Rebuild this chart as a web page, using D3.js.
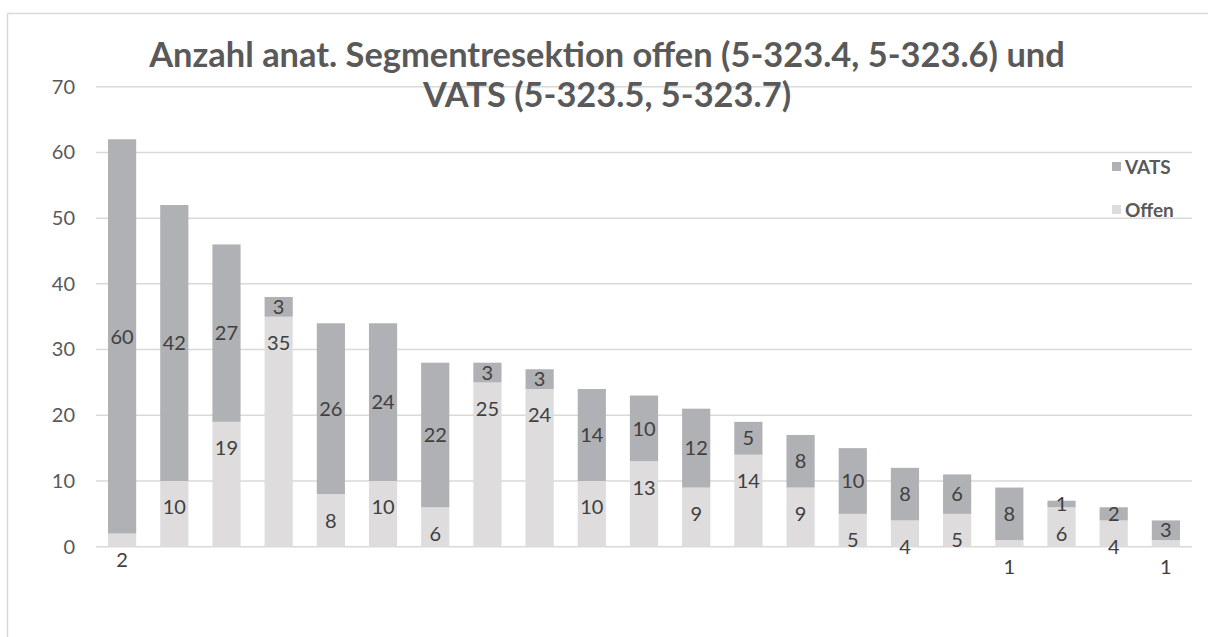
<!DOCTYPE html>
<html>
<head>
<meta charset="utf-8">
<script src="https://cdn.jsdelivr.net/npm/d3@7"></script>
<style>
  html, body { margin: 0; padding: 0; background: #fff; }
  svg { display: block; }
  text { font-family: Lato, "Open Sans", sans-serif; }
</style>
</head>
<body>
<svg id="chart" width="1208" height="637"></svg>
<script>
// ---- data ----
const categories = d3.range(1, 22).map(String);
const offen = [2, 10, 19, 35, 8, 10, 6, 25, 24, 10, 13, 9, 14, 9, 5, 4, 5, 1, 6, 4, 1];
const vats  = [60, 42, 27, 3, 26, 24, 22, 3, 3, 14, 10, 12, 5, 8, 10, 8, 6, 8, 1, 2, 3];
const yTicks = [0, 10, 20, 30, 40, 50, 60, 70];
const titleLines = ["Anzahl anat. Segmentresektion offen (5-323.4, 5-323.6) und", "VATS (5-323.5, 5-323.7)"];
const seriesNames = ["VATS", "Offen"];

// ---- styles ----
const colVats = "#b0b1b5", colOffen = "#dedcdd";
const textCol = "#595959", labelCol = "#404040", gridCol = "#d9d9d9";

const svg = d3.select("#chart");
const W = 1208, H = 637;
const plot = { left: 96, right: 1192, top: 86.7, bottom: 546.7 };

// outer chart border
svg.append("rect").attr("x", 7.5).attr("y", 13.5).attr("width", W + 50).attr("height", H + 50)
  .attr("fill", "none").attr("stroke", gridCol).attr("stroke-width", 1.5);

const x = d3.scaleBand().domain(categories).range([plot.left, plot.right]).paddingInner(0.46).paddingOuter(0.23);
const y = d3.scaleLinear().domain([0, 70]).range([plot.bottom, plot.top]);

// gridlines
svg.append("g").selectAll("line").data(yTicks).join("line")
  .attr("x1", plot.left).attr("x2", plot.right)
  .attr("y1", d => y(d)).attr("y2", d => y(d))
  .attr("stroke", gridCol).attr("stroke-width", 1.5);

// y axis labels
const yAxis = d3.axisLeft(y).tickValues(yTicks).tickSize(0).tickPadding(0);
const gy = svg.append("g").attr("transform", `translate(75,0)`).call(yAxis);
gy.select(".domain").remove();
gy.selectAll("text").attr("font-family", "Lato").attr("font-size", 20).attr("fill", textCol);

// stacked bars
const rows = categories.map((c, i) => ({ cat: c, Offen: offen[i], VATS: vats[i] }));
const stack = d3.stack().keys(["Offen", "VATS"])(rows);
const colors = { Offen: colOffen, VATS: colVats };

svg.append("g").selectAll("g").data(stack).join("g")
  .attr("fill", s => colors[s.key])
  .selectAll("rect").data(s => s).join("rect")
  .attr("x", d => x(d.data.cat))
  .attr("width", x.bandwidth())
  .attr("y", d => y(d[1]))
  .attr("height", d => y(d[0]) - y(d[1]));

// labels: VATS centred in segment, Offen placed near inside end (offset 4 units below top)
const lab = svg.append("g").attr("font-size", 20).attr("fill", labelCol).attr("text-anchor", "middle");
stack[1].forEach(d => {
  lab.append("text").attr("x", x(d.data.cat) + x.bandwidth() / 2)
    .attr("y", y((d[0] + d[1]) / 2)).attr("dy", "0.36em").text(d.data.VATS);
});
stack[0].forEach(d => {
  lab.append("text").attr("x", x(d.data.cat) + x.bandwidth() / 2)
    .attr("y", y(d[1] - 4)).attr("dy", "0.36em").text(d.data.Offen);
});

// title
const tg = svg.append("g").attr("fill", textCol).attr("text-anchor", "middle").attr("font-weight", 700);
const t1 = tg.append("text").attr("x", 607).attr("y", 67).attr("font-size", 32).text(titleLines[0]);
const len = t1.node().getComputedTextLength();
const fs = 32 * 916 / len;
t1.attr("font-size", fs);
tg.append("text").attr("x", 607).attr("y", 107).attr("font-size", fs).text(titleLines[1]);

// legend
const lg = svg.append("g");
const legendItems = [{ name: seriesNames[0], col: colVats, yy: 167 }, { name: seriesNames[1], col: colOffen, yy: 210 }];
legendItems.forEach(it => {
  lg.append("rect").attr("x", 1112).attr("y", it.yy - 5).attr("width", 9).attr("height", 9).attr("fill", it.col);
  lg.append("text").attr("x", 1125).attr("y", it.yy).attr("dy", "0.36em").attr("font-size", 19)
    .attr("font-weight", 700).attr("fill", textCol).text(it.name);
});
</script>
</body>
</html>
